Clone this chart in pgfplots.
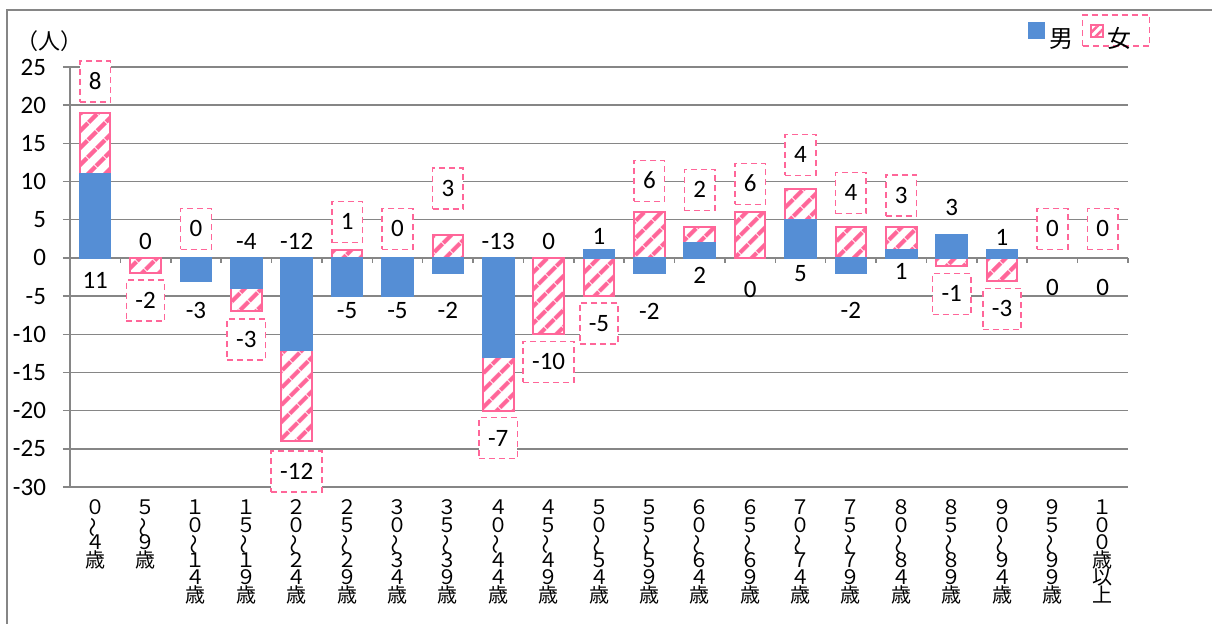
\documentclass[border=0pt]{standalone}
\usepackage{graphicx}
\usepackage{fontspec}
\setmainfont{Carlito}
\newfontfamily\jp{Noto Sans CJK JP}
\usepackage{pgfplots}
\pgfplotsset{compat=1.18}
\usetikzlibrary{patterns.meta}

\definecolor{mblue}{RGB}{85,142,213}
\definecolor{fpink}{RGB}{255,102,153}
\definecolor{gridgray}{RGB}{134,134,134}

% vertical wave dash for the stacked category names
\newcommand{\T}{\rotatebox[origin=c]{90}{～}}
\newcommand{\xlfont}{\jp\fontsize{10}{8.75}\selectfont\lineskiplimit=-10pt\relax\lineskip=0pt\relax}

\tikzset{
  hatch/.style={fill=white,
    postaction={pattern={Lines[angle=45,distance=6.5pt,line width=2.4pt]}, pattern color=fpink}},
  lblfont/.style={font=\fontsize{12.5}{15}\selectfont, text height=7.9pt, text depth=0pt},
}

\begin{document}
\begin{tikzpicture}
\useasboundingbox (0,0) rectangle (606pt,311.5pt);
\draw[gridgray, line width=0.75pt] (3.5pt,-20pt) -- (3.5pt,306.5pt) -- (640pt,306.5pt);
\begin{axis}[
  at={(35pt,68pt)}, anchor=south west,
  scale only axis, width=529pt, height=210pt,
  clip=false,
  xmin=-0.5, xmax=20.5, ymin=-30, ymax=25,
  ytick={-30,-25,...,25},
  xtick={0,...,20},
  minor xtick={-0.5,0.5,...,20.5},
  xticklabels={
    {０\\\T\\４\\歳},{５\\\T\\９\\歳},{１\\０\\\T\\１\\４\\歳},{１\\５\\\T\\１\\９\\歳},
    {２\\０\\\T\\２\\４\\歳},{２\\５\\\T\\２\\９\\歳},{３\\０\\\T\\３\\４\\歳},{３\\５\\\T\\３\\９\\歳},
    {４\\０\\\T\\４\\４\\歳},{４\\５\\\T\\４\\９\\歳},{５\\０\\\T\\５\\４\\歳},{５\\５\\\T\\５\\９\\歳},
    {６\\０\\\T\\６\\４\\歳},{６\\５\\\T\\６\\９\\歳},{７\\０\\\T\\７\\４\\歳},{７\\５\\\T\\７\\９\\歳},
    {８\\０\\\T\\８\\４\\歳},{８\\５\\\T\\８\\９\\歳},{９\\０\\\T\\９\\４\\歳},{９\\５\\\T\\９\\９\\歳},
    {１\\０\\０\\歳\\以\\上}},
  axis x line*=middle, axis y line*=left,
  axis line style={gridgray, line width=0.75pt},
  ymajorgrids, grid style={gridgray, line width=0.75pt},
  tick align=outside,
  major tick length=3.5pt, minor tick length=2.5pt,
  tick style={gridgray, line width=0.75pt},
  major x tick style={draw=none},
  /pgf/number format/assume math mode=true,
  yticklabel style={font=\fontsize{12.5}{15}\selectfont, xshift=-5pt},
  xticklabel style={font=\xlfont, align=center, anchor=north, yshift=-114pt},
  ylabel={（人）},
  ylabel style={at={(rel axis cs:0,1)}, rotate=-90, anchor=center, xshift=-10pt, yshift=13pt,
    font=\jp\fontsize{11}{13}\selectfont},
  legend columns=-1,
  legend style={at={(0.9055,1.0679)}, anchor=west, draw=none, fill=none, inner sep=0pt,
    font=\jp\fontsize{12}{14}\selectfont,
    /tikz/every even column/.append style={column sep=6pt}},
]
% female bars: drawn from 0 to the top of the female part (male part stacked below when same sign)
\addplot[ybar, bar width=15.3pt, bar shift=0pt, draw=fpink, line width=1pt, hatch, forget plot]
  coordinates {(0,19) (1,-2) (3,-7) (4,-24) (5,1) (7,3) (8,-20) (9,-10) (10,-5)
    (11,6) (12,4) (13,6) (14,9) (15,4) (16,4) (17,-1) (18,-3)};
% male bars
\addplot[ybar, bar width=15.3pt, bar shift=0pt, draw=mblue, line width=1pt, fill=mblue,
  legend image code/.code={\fill[mblue] (0pt,0.6pt) rectangle (7.5pt,8.1pt);}]
  coordinates {(0,11) (2,-3) (3,-4) (4,-12) (5,-5) (6,-5) (7,-2) (8,-13) (10,1)
    (11,-2) (12,2) (14,5) (15,-2) (16,1) (17,3) (18,1)};
\addlegendentry{男}
\addlegendimage{legend image code/.code={
  \draw[fpink, line width=1pt, fill=white,
    postaction={pattern={Lines[angle=45,distance=3pt,line width=1.2pt]}, pattern color=fpink}]
    (-1.5pt,1.3pt) rectangle (4.5pt,7.3pt);
  \draw[overlay, fpink, line width=0.75pt, dash pattern=on 3pt off 2pt] (-5.5pt,-3.45pt) rectangle (28pt,12.05pt);}}
\addlegendentry{女}
% male value labels
\addplot[forget plot, only marks, mark=*, mark size=0pt, point meta=explicit symbolic,
  nodes near coords, every node near coord/.append style={anchor=center, lblfont, inner sep=0pt, text=black}]
  coordinates {(0,-3.0)[11] (1,2.2)[0] (2,-6.9)[-3] (3,2.2)[-4] (4,2.2)[-12] (5,-6.9)[-5]
    (6,-6.9)[-5] (7,-6.9)[-2] (8,2.2)[-13] (9,2.2)[0] (10,2.8)[1] (11,-7.0)[-2]
    (12,-2.3)[2] (13,-4.1)[0] (14,-2.0)[5] (15,-6.9)[-2] (16,-1.8)[1] (17,6.6)[3]
    (18,2.6)[1] (19,-3.9)[0] (20,-3.9)[0]};
% female value labels
\addplot[forget plot, only marks, mark=*, mark size=0pt, point meta=explicit symbolic,
  nodes near coords, every node near coord/.append style={anchor=center, lblfont, text=black,
    draw=fpink, line width=0.75pt, dash pattern=on 3pt off 2pt, fill=white,
    inner xsep=4.5pt, inner ysep=0pt, minimum height=20.5pt}]
  coordinates {(0,23.1)[8] (1,-5.6)[-2] (2,3.8)[0] (3,-10.7)[-3] (4,-28.0)[-12] (5,4.7)[1]
    (6,3.8)[0] (7,9.1)[3] (8,-23.6)[-7] (9,-13.6)[-10] (10,-8.6)[-5] (11,10.1)[6]
    (12,8.9)[2] (13,9.7)[6] (14,13.5)[4] (15,8.5)[4] (16,8.2)[3] (17,-4.7)[-1]
    (18,-6.7)[-3] (19,3.8)[0] (20,3.8)[0]};
\end{axis}
\end{tikzpicture}
\end{document}
